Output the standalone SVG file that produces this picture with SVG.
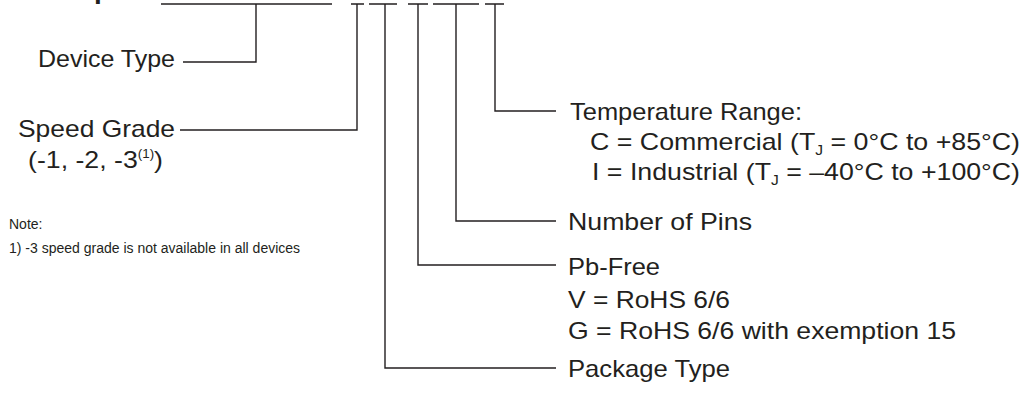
<svg xmlns="http://www.w3.org/2000/svg" width="1026" height="395" viewBox="0 0 1026 395">
<style>
.t{font-family:"Liberation Sans",Arial,Helvetica,sans-serif;font-size:24px;fill:#231f20}
.n{font-family:"Liberation Sans",Arial,Helvetica,sans-serif;font-size:14px;fill:#231f20}
.c{fill:none;stroke:#231f20;stroke-width:1.4}
.sm{font-size:14px}
.sup{font-size:12px}
</style>
<rect width="1026" height="395" fill="#ffffff"/>
<text class="t" x="94" y="-2" style="font-weight:bold;font-size:28px">p</text>
<g id="connectors">
<path class="c" d="M161,4H332"/>
<path class="c" d="M351,4H364 M369,4H397 M408,4H428 M433,4H479 M485,4H504"/>
<path class="c" d="M256,4V62H183"/>
<path class="c" d="M357,4V130H180"/>
<path class="c" d="M385,4V368H556"/>
<path class="c" d="M418,4V265H556"/>
<path class="c" d="M456,4V221H556"/>
<path class="c" d="M495,4V111H556"/>
</g>
<g id="device-type"><text class="t" x="38" y="67" textLength="137" lengthAdjust="spacingAndGlyphs">Device Type</text></g>
<g id="speed-grade">
<text class="t" x="18" y="137" textLength="157" lengthAdjust="spacingAndGlyphs">Speed Grade</text>
<text class="t" x="28" y="168" textLength="135" lengthAdjust="spacingAndGlyphs">(-1, -2, -3<tspan class="sup" dy="-10">(1)</tspan><tspan dy="10">)</tspan></text>
</g>
<g id="note">
<text class="n" x="9" y="229">Note:</text>
<text class="n" x="9" y="253">1) -3 speed grade is not available in all devices</text>
</g>
<g id="temperature-range">
<text class="t" x="570" y="120" textLength="232" lengthAdjust="spacingAndGlyphs">Temperature Range:</text>
<text class="t" x="590" y="150" textLength="430" lengthAdjust="spacingAndGlyphs">C = Commercial (T<tspan class="sm" dy="5">J</tspan><tspan dy="-5"> = 0°C to +85°C)</tspan></text>
<text class="t" x="592" y="180" textLength="428" lengthAdjust="spacingAndGlyphs">I = Industrial (T<tspan class="sm" dy="5">J</tspan><tspan dy="-5"> = –40°C to +100°C)</tspan></text>
</g>
<g id="number-of-pins"><text class="t" x="568" y="230" textLength="184" lengthAdjust="spacingAndGlyphs">Number of Pins</text></g>
<g id="pb-free">
<text class="t" x="568" y="275" textLength="92" lengthAdjust="spacingAndGlyphs">Pb-Free</text>
<text class="t" x="568" y="308" textLength="162" lengthAdjust="spacingAndGlyphs">V = RoHS 6/6</text>
<text class="t" x="568" y="339" textLength="388" lengthAdjust="spacingAndGlyphs">G = RoHS 6/6 with exemption 15</text>
</g>
<g id="package-type"><text class="t" x="568" y="377" textLength="162" lengthAdjust="spacingAndGlyphs">Package Type</text></g>
</svg>
